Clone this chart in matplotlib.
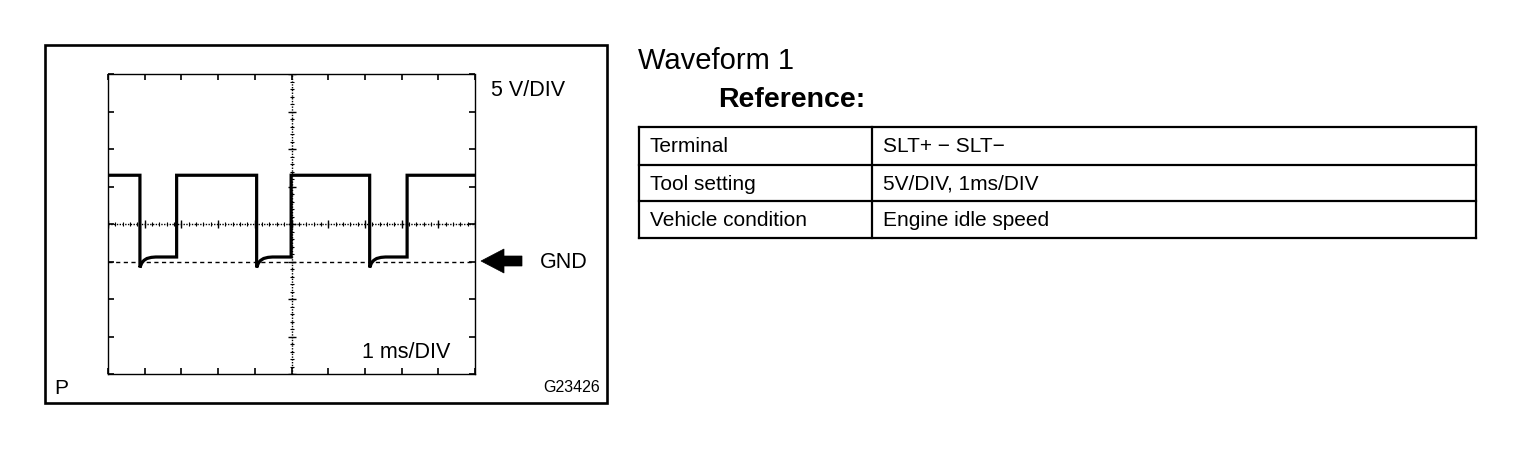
import numpy as np
import matplotlib

matplotlib.use("Agg")
import matplotlib.pyplot as plt
from matplotlib.patches import Rectangle, Polygon

plt.rcParams["font.family"] = ["Liberation Sans", "DejaVu Sans"]

# scope trace (ms, volts); 5 V/DIV, 1 ms/DIV, GND = 0 V
trace_t = [0.0, 0.87, 0.87, 0.92, 0.98, 1.06, 1.18, 1.30, 1.87, 1.87,
           4.05, 4.05, 4.10, 4.16, 4.24, 4.36, 4.48, 4.99, 4.99,
           7.13, 7.13, 7.18, 7.24, 7.32, 7.44, 7.56, 8.15, 8.15, 10.0]
trace_v = [11.5, 11.5, -0.8, -0.2, 0.15, 0.4, 0.55, 0.6, 0.6, 11.5,
           11.5, -0.8, -0.2, 0.15, 0.4, 0.55, 0.6, 0.6, 11.5,
           11.5, -0.8, -0.2, 0.15, 0.4, 0.55, 0.6, 0.6, 11.5, 11.5]

volt_div = 5.0
time_div = 1.0
n_xdiv = 10
n_ydiv = 8
gnd_div_from_bottom = 3

row_labels = ["Terminal", "Tool setting", "Vehicle condition"]
row_values = ["SLT+ \u2212 SLT\u2212", "5V/DIV, 1ms/DIV", "Engine idle speed"]

W, H = 1520, 458
fig = plt.figure(figsize=(W / 100, H / 100), dpi=100)
fig.patch.set_facecolor("white")

# full-figure overlay in pixel coordinates for frame, labels and table
ov = fig.add_axes([0, 0, 1, 1])
ov.set_xlim(0, W)
ov.set_ylim(H, 0)
ov.axis("off")

ov.add_patch(Rectangle((45, 45), 562, 358, fill=False, lw=1.9, ec="black"))
ov.text(491, 91, "5 V/DIV", fontsize=15.5, ha="left", va="center")
ov.text(450, 353, "1 ms/DIV", fontsize=15.5, ha="right", va="center")
ov.text(540, 263, "GND", fontsize=15.5, ha="left", va="center")
ov.text(54, 389, "P", fontsize=15, ha="left", va="center")
ov.text(600, 388, "G23426", fontsize=11.5, ha="right", va="center")
ov.add_patch(Polygon([(481, 261), (504, 249), (504, 256), (522, 256),
                      (522, 266), (504, 266), (504, 273)],
                     closed=True, fc="black", ec="black", lw=0.5))

ov.text(638, 61, "Waveform 1", fontsize=21, ha="left", va="center")
ov.text(718, 100, "Reference:", fontsize=20.5, fontweight="bold",
        ha="left", va="center")

tx0, tx1, tcol = 639, 1476, 872
row_edges = [127, 165, 201, 238]
for y in row_edges:
    ov.plot([tx0, tx1], [y, y], color="black", lw=1.6, solid_capstyle="projecting")
for x in (tx0, tcol, tx1):
    ov.plot([x, x], [row_edges[0], row_edges[-1]], color="black", lw=1.6,
            solid_capstyle="projecting")
for i, (lab, val) in enumerate(zip(row_labels, row_values)):
    yc = (row_edges[i] + row_edges[i + 1]) / 2 + 1
    ov.text(650, yc, lab, fontsize=15, ha="left", va="center")
    ov.text(883, yc, val, fontsize=15, ha="left", va="center")

# scope screen
ax = fig.add_axes([108 / W, 1 - 374 / H, 367 / W, 300 / H])
ax.set_facecolor("none")
ymin = -gnd_div_from_bottom * volt_div
ymax = ymin + n_ydiv * volt_div
ax.set_xlim(0, n_xdiv * time_div)
ax.set_ylim(ymin, ymax)
for s in ax.spines.values():
    s.set_linestyle((0, (1, 1)))
    s.set_linewidth(1.0)
xt = np.arange(0, n_xdiv + 1) * time_div
yt = ymin + np.arange(0, n_ydiv + 1) * volt_div
ax.set_xticks(xt)
ax.set_yticks(yt)
ax.tick_params(direction="in", length=4, width=1.2, top=True, right=True,
               labelbottom=False, labelleft=False)

xc = n_xdiv * time_div / 2
yc = ymin + n_ydiv * volt_div / 2
ax.axvline(xc, color="black", lw=1.0, ls=(0, (1, 1)))
ax.axhline(yc, color="black", lw=1.0, ls=(0, (1, 1)))
ax.axhline(0, color="black", lw=1.0, ls=(0, (3, 2.5)))
mx = np.arange(0, n_xdiv * 5 + 1) * time_div / 5
my = ymin + np.arange(0, n_ydiv * 5 + 1) * volt_div / 5
ax.plot(mx, np.full_like(mx, yc), ls="none", marker="|", ms=3, mew=0.8, color="black")
ax.plot(np.full_like(my, xc), my, ls="none", marker="_", ms=3, mew=0.8, color="black")
ax.plot(xt, np.full_like(xt, yc), ls="none", marker="|", ms=5.5, mew=1.0, color="black")
ax.plot(np.full_like(yt, xc), yt, ls="none", marker="_", ms=5.5, mew=1.0, color="black")

ax.plot(trace_t, trace_v, color="black", lw=2.3, solid_joinstyle="miter")

fig.savefig("out.png", dpi=100, facecolor="white")
